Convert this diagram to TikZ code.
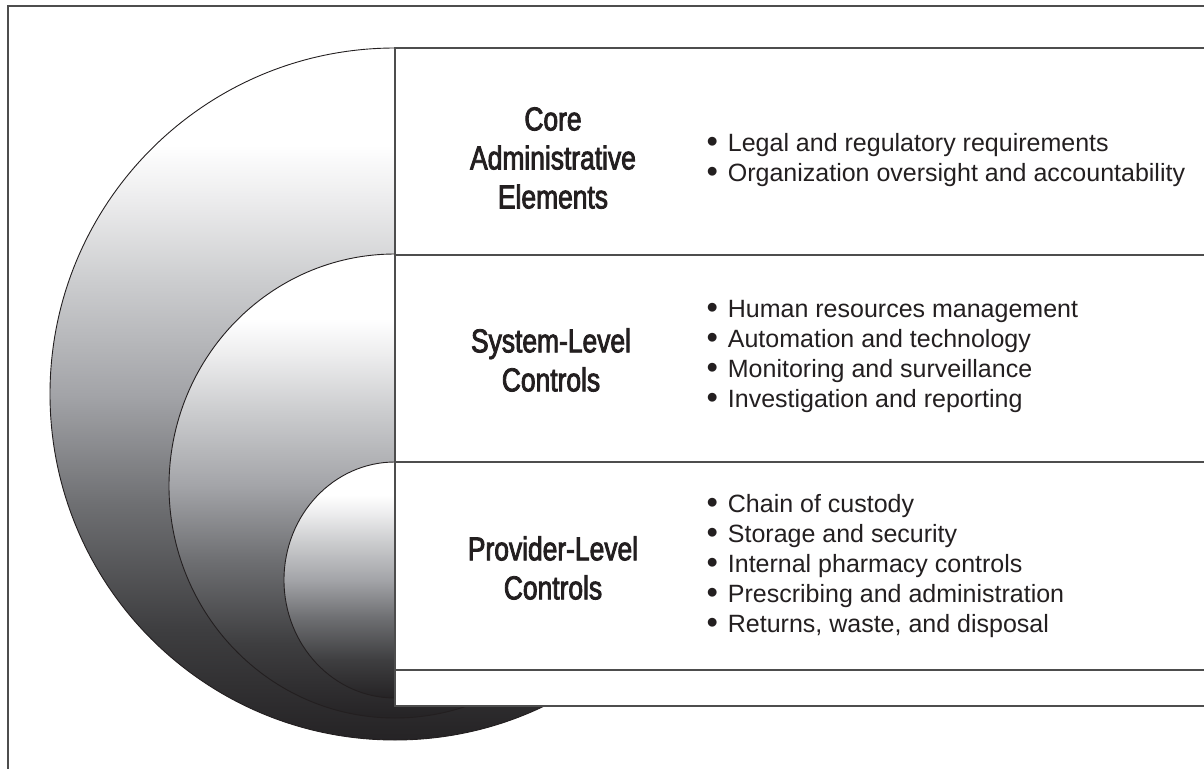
\documentclass[tikz,border=0pt]{standalone}
\usepackage{fontspec}
\setmainfont{Liberation Sans}
\newfontfamily\condfont[FakeStretch=0.8,FakeBold=2.5]{Liberation Sans}

\definecolor{ink}{HTML}{231F20}
\definecolor{rulegray}{HTML}{4D4D4D}
\definecolor{shadeA}{HTML}{252325}
\definecolor{shadeB}{HTML}{3E3E40}
\definecolor{shadeC}{HTML}{6E6F72}
\definecolor{shadeD}{HTML}{A3A4A8}
\definecolor{shadeE}{HTML}{CBCCCE}
\definecolor{shadeF}{HTML}{ECECED}

\pgfdeclareverticalshading{ringshade}{100bp}{color(0bp)=(shadeA); color(25bp)=(shadeA);
  color(33bp)=(shadeB); color(42bp)=(shadeC); color(50bp)=(shadeD);
  color(58bp)=(shadeE); color(64bp)=(shadeF); color(68bp)=(white); color(100bp)=(white)}

\newcommand{\dotitem}{\raisebox{-1pt}{\scalebox{1.3}{\textbullet}}\hspace{10pt}}

\tikzset{
  ring/.style={draw=ink, line width=0.9pt, shading=ringshade},
  rule/.style={draw=rulegray, line width=1.2pt},
  title/.style={font=\condfont\fontsize{33}{39}\selectfont, align=center, text=ink},
  items/.style={font=\fontsize{25}{30}\selectfont, align=left, anchor=west, text=ink}
}

\begin{document}
\begin{tikzpicture}[x=1pt,y=-1pt]
      % \draw[help lines](0,0) grid[step=100] (1204,768);

      % Bounding box
      \useasboundingbox (0,0) rectangle (1204,768);
      \clip (0,0) rectangle (1204,768);

      \draw[rule] (8,6) rectangle (1240,800);

      \path[ring] (395,394) ellipse [x radius=345pt, y radius=346pt];
      \path[ring] (395,486) ellipse [x radius=226pt, y radius=232pt];
      \path[ring] (395,580) ellipse [x radius=111pt, y radius=118pt];

      \draw[rule, fill=white] (395,48) rectangle (1240,706);
      \draw[rule] (395,255) -- (1240,255);
      \draw[rule] (395,462) -- (1240,462);
      \draw[rule] (395,670) -- (1240,670);

      \draw (553,158) node[title] (core) {Core\\Administrative\\Elements};
      \draw (551,360) node[title] (system) {System-Level\\Controls};
      \draw (553,568) node[title] (provider) {Provider-Level\\Controls};

      \draw (703,160) node[items] (coreitems) {\dotitem Legal and regulatory requirements\\
        \dotitem Organization oversight and accountability};
      \draw (703,356) node[items] (systemitems) {\dotitem Human resources management\\
        \dotitem Automation and technology\\
        \dotitem Monitoring and surveillance\\
        \dotitem Investigation and reporting};
      \draw (703,566) node[items] (provideritems) {\dotitem Chain of custody\\
        \dotitem Storage and security\\
        \dotitem Internal pharmacy controls\\
        \dotitem Prescribing and administration\\
        \dotitem Returns, waste, and disposal};
    \end{tikzpicture}
\end{document}
